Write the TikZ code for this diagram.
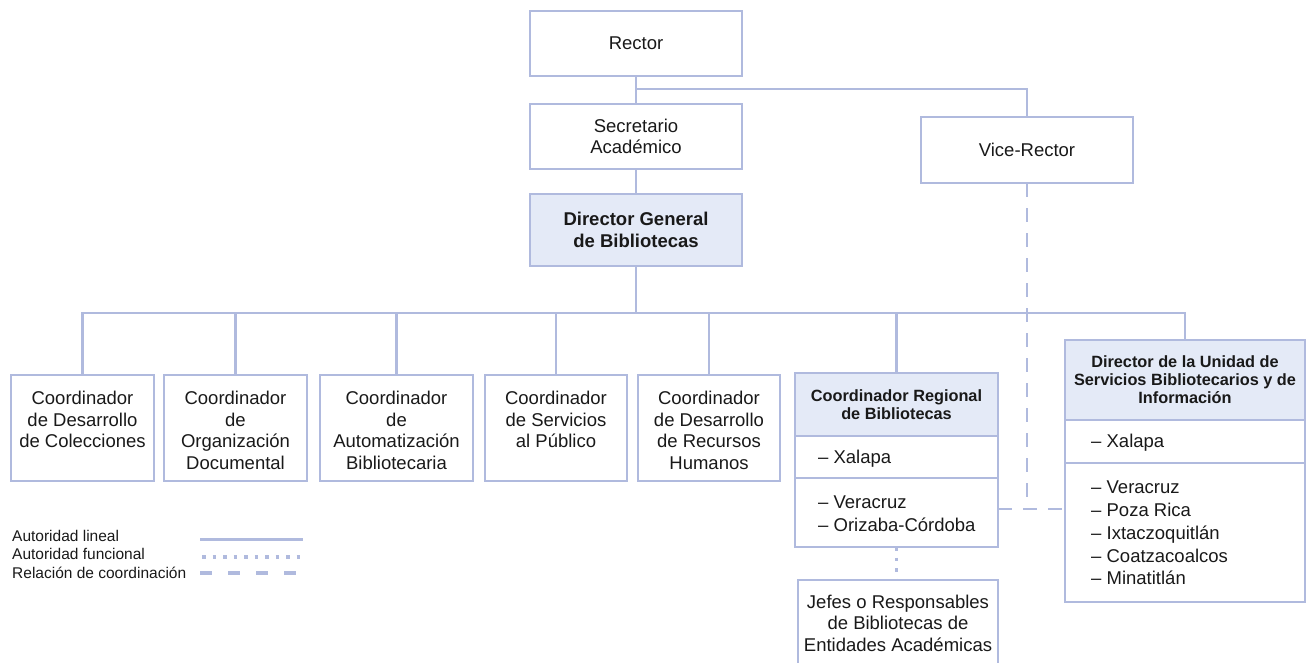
\documentclass[tikz,border=0pt]{standalone}
\usepackage{fontspec}
\setmainfont{Liberation Sans}
\usetikzlibrary{calc, positioning}
\definecolor{orgline}{RGB}{176,186,222}
\definecolor{orghead}{RGB}{228,234,247}
\newcommand{\orgfont}{\fontsize{18.5}{21.5}\selectfont}
\newcommand{\hdfont}{\fontsize{16.3}{18}\selectfont}
\newcommand{\lstfont}{\fontsize{18.5}{22.8}\selectfont}
\newcommand{\lgfont}{\fontsize{15.5}{18}\selectfont}

\begin{document}
\begin{tikzpicture}[x=1pt, y=-1pt, text=black!90,
  box/.style={draw=orgline, line width=2.8pt, inner sep=0pt, outer sep=0pt, align=center, font=\orgfont},
  headbox/.style={box, fill=orghead},
  txt/.style={inner sep=0pt, align=center, font=\orgfont},
  lst/.style={inner sep=0pt, align=left, anchor=west, font=\lstfont},
  lin/.style={draw=orgline, line width=2.8pt},
  func/.style={lin, line width=3.5pt, dash pattern=on 3.5pt off 7pt},
  crd/.style={lin, dash pattern=on 14pt off 11pt}]
\useasboundingbox (0,0) rectangle (1311,662);
% top of the chart
\node[box, minimum width=212pt, minimum height=65pt] (rector) at (636,43.5) {Rector};
\node[box, minimum width=212pt, minimum height=65pt] (secr) at (636,136.5) {Secretario\\Académico};
\node[headbox, font=\bfseries\orgfont, minimum width=212pt, minimum height=72pt] (dg) at (636,230) {Director General\\de Bibliotecas};
\node[box, minimum width=212pt, minimum height=66pt] (vice) at (1027,150) {Vice-Rector};
\coordinate (br) at (636,89);
\coordinate (bus) at (636,313);
\draw[lin] (rector) -- (secr);
\draw[lin] (secr) -- (dg);
\draw[lin] (dg.south) -- (bus);
\draw[lin] (br) -| (vice.north);
% coordinators
\foreach \n/\cx/\w/\txt in {
  c1/82.5/143/{Coordinador\\de Desarrollo\\de Colecciones},
  c2/235.5/143/{Coordinador\\de\\Organización\\Documental},
  c3/396.5/153/{Coordinador\\de\\Automatización\\Bibliotecaria},
  c4/556/142/{Coordinador\\de Servicios\\al Público},
  c5/709/142/{Coordinador\\de Desarrollo\\de Recursos\\Humanos}}{
  \node[box, minimum width=\w pt, minimum height=106pt] (\n) at (\cx,428) {};
  \node[txt, anchor=north] (t\n) at ($(\n.north)+(0,16)$) {\txt};
  \draw[lin] (\n.north) |- (bus);
}
% regional coordinator
\node[headbox, font=\bfseries\hdfont, minimum width=203pt, minimum height=63pt] (reg) at (896.5,404.5) {Coordinador Regional\\de Bibliotecas};
\node[box, minimum width=203pt, minimum height=42pt, below=0pt of reg] (regx) {};
\node[box, minimum width=203pt, minimum height=69pt, below=0pt of regx] (regr) {};
\node[lst] (regxa) at ($(regx.west)+(23,2)$) {– Xalapa};
\node[lst] (regrl) at ($(regr.west)+(23,1.5)$) {– Veracruz\\– Orizaba-Córdoba};
\draw[lin] (reg.north) |- (bus);
\node[box, minimum width=200pt, minimum height=86pt] (jefes) at (898,623) {Jefes o Responsables\\de Bibliotecas de\\Entidades Académicas};
\draw[func] (regr.south) -- (regr.south |- jefes.north);
% library services unit
\node[headbox, font=\bfseries\hdfont, minimum width=240pt, minimum height=80pt] (dun) at (1185,380) {Director de la Unidad de\\Servicios Bibliotecarios y de\\Información};
\node[box, minimum width=240pt, minimum height=43pt, below=0pt of dun] (dunx) {};
\node[box, minimum width=240pt, minimum height=139pt, below=0pt of dunx] (dunr) {};
\node[lst] (dunxa) at ($(dunx.west)+(26,1.5)$) {– Xalapa};
\node[lst] (dunrl) at ($(dunr.west)+(26,0.5)$) {– Veracruz\\– Poza Rica\\– Ixtaczoquitlán\\– Coatzacoalcos\\– Minatitlán};
\draw[lin] (dun.north) |- (bus);
% coordination
\coordinate (cj) at (1027,509);
\draw[crd] (vice.south) -- (cj);
\draw[crd] (regr.east |- cj) -- (dunr.west |- cj);
% legend
\node[anchor=west, inner sep=0pt, font=\lgfont] (leglin) at (12,536) {Autoridad lineal};
\node[anchor=west, inner sep=0pt, font=\lgfont] (legfun) at (12,554) {Autoridad funcional};
\node[anchor=west, inner sep=0pt, font=\lgfont] (legcrd) at (12,573) {Relación de coordinación};
\draw[lin, line width=3pt] ($(leglin.west)+(188,3)$) -- ++(103,0);
\draw[func] ($(legfun.west)+(190,3)$) -- ++(100,0);
\draw[crd, line width=3.5pt, dash pattern=on 12pt off 16pt] ($(legcrd.west)+(188,0)$) -- ++(103,0);
\end{tikzpicture}
\end{document}
